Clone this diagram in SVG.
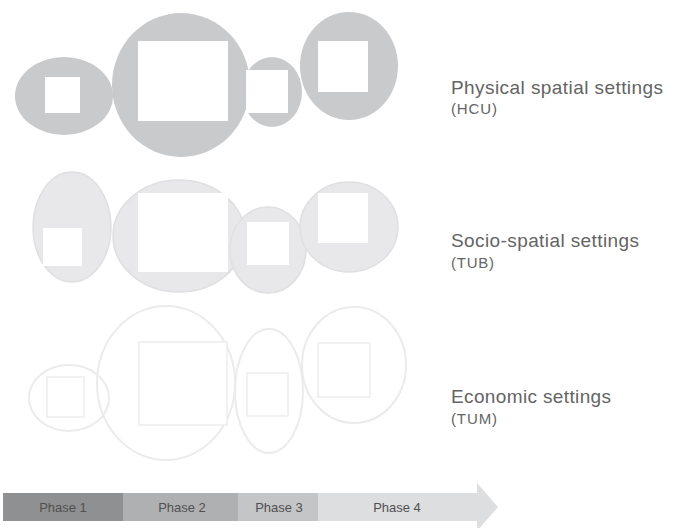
<svg xmlns="http://www.w3.org/2000/svg" width="680" height="528" viewBox="0 0 680 528">
<style>
.r1{fill:#c9cacc}
.r2{fill:#e8e8ea;stroke:#dfdfe1;stroke-width:1.5}
.r3{fill:none;stroke:#ebebeb;stroke-width:2}
.sq{fill:#ffffff}
.sq3{fill:#ffffff;stroke:#ededed;stroke-width:1.5}
.lab{font-family:"Liberation Sans",Arial,sans-serif;font-size:19px;fill:#646464}
.sub{font-family:"Liberation Sans",Arial,sans-serif;font-size:15px;fill:#646464}
.ph{font-family:"Liberation Sans",Arial,sans-serif;font-size:13px;fill:#505050;text-anchor:middle}
</style>
<rect width="680" height="528" fill="#ffffff"/>
<g id="connectors"/>
<!-- Row 1: Physical -->
<g id="physical">
<ellipse class="r1" cx="64" cy="96" rx="49" ry="39"/>
<ellipse class="r1" cx="181" cy="85" rx="69" ry="72"/>
<ellipse class="r1" cx="272" cy="92" rx="30" ry="35"/>
<ellipse class="r1" cx="349" cy="66" rx="49" ry="54"/>
<rect class="sq" x="45" y="77" width="35" height="36"/>
<rect class="sq" x="138" y="41" width="90" height="80"/>
<rect class="sq" x="246" y="70" width="42" height="43"/>
<rect class="sq" x="318" y="41" width="50" height="51"/>
</g>
<!-- Row 2: Socio-spatial -->
<g id="socio">
<ellipse class="r2" cx="72" cy="227" rx="39" ry="55"/>
<ellipse class="r2" cx="179" cy="236" rx="66" ry="56"/>
<ellipse class="r2" cx="268" cy="250" rx="38" ry="43"/>
<ellipse class="r2" cx="349" cy="227" rx="49" ry="45"/>
<rect class="sq" x="43" y="228" width="39" height="38"/>
<rect class="sq" x="138" y="193" width="90" height="79"/>
<rect class="sq" x="247" y="222" width="42" height="43"/>
<rect class="sq" x="318" y="193" width="50" height="50"/>
</g>
<!-- Row 3: Economic -->
<g id="economic">
<ellipse class="r3" cx="69" cy="398" rx="40" ry="33"/>
<ellipse class="r3" cx="166" cy="383" rx="69" ry="77"/>
<ellipse class="r3" cx="269" cy="391" rx="34" ry="62"/>
<ellipse class="r3" cx="354" cy="365" rx="52" ry="58"/>
<rect class="sq3" x="47" y="377" width="37" height="40"/>
<rect class="sq3" x="139" y="342" width="88" height="83"/>
<rect class="sq3" x="247" y="373" width="41" height="43"/>
<rect class="sq3" x="318" y="343" width="52" height="54"/>
</g>
<g id="label-physical">
<text class="lab" x="451" y="94" textLength="212" lengthAdjust="spacing">Physical spatial settings</text>
<text class="sub" x="451" y="114" textLength="46" lengthAdjust="spacing">(HCU)</text>
</g>
<g id="label-socio">
<text class="lab" x="451" y="247" textLength="188" lengthAdjust="spacing">Socio-spatial settings</text>
<text class="sub" x="451" y="268" textLength="43" lengthAdjust="spacing">(TUB)</text>
</g>
<g id="label-economic">
<text class="lab" x="451" y="403" textLength="160" lengthAdjust="spacing">Economic settings</text>
<text class="sub" x="451" y="424" textLength="46" lengthAdjust="spacing">(TUM)</text>
</g>
<!-- Phase arrow -->
<g id="phase-arrow">
<path d="M317 493 H477 V483 L498 507 L477 531 V521 H317 Z" fill="#dddee0"/>
<rect x="3" y="493" width="120" height="28" fill="#8f9092"/>
<rect x="123" y="493" width="115" height="28" fill="#afb0b2"/>
<rect x="238" y="493" width="80" height="28" fill="#c4c5c7"/>
</g>
<g id="phase1"><text class="ph" x="63" y="512">Phase 1</text></g>
<g id="phase2"><text class="ph" x="182" y="512">Phase 2</text></g>
<g id="phase3"><text class="ph" x="279" y="512">Phase 3</text></g>
<g id="phase4"><text class="ph" x="397" y="512">Phase 4</text></g>
</svg>
